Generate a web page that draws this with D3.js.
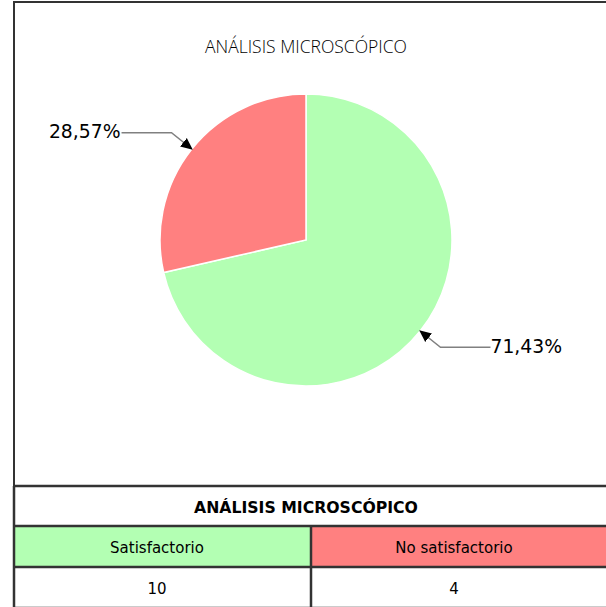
<!DOCTYPE html>
<html>
<head>
<meta charset="utf-8">
<script src="https://cdn.jsdelivr.net/npm/d3@7"></script>
<style>
html,body{margin:0;padding:0;background:#fff;overflow:hidden;}
svg{display:block;}
</style>
</head>
<body>
<svg id="chart" width="606" height="607"></svg>
<script>
const chartTitle = "ANÁLISIS MICROSCÓPICO";
const categories = ["Satisfactorio", "No satisfactorio"];
const values = [10, 4];
const sliceColors = ["#b3ffb3", "#ff8080"];

const W = 606, H = 607;
const svg = d3.select("#chart");
const border = "#333333";

// Outer chart frame
const frame = {x0: 14, y0: 2, x1: 612, y1: 486};
svg.append("rect").attr("x", frame.x0).attr("y", frame.y0)
  .attr("width", frame.x1 - frame.x0).attr("height", frame.y1 - frame.y0)
  .attr("fill", "#fff").attr("stroke", border).attr("stroke-width", 2);

// Title
svg.append("text").attr("x", 306).attr("y", 46)
  .attr("text-anchor", "middle").attr("dominant-baseline", "central")
  .attr("font-family", "'Open Sans', sans-serif").attr("font-weight", 300)
  .attr("font-size", 17.5).attr("fill", "#000").text(chartTitle);

// Pie
const cx = 306, cy = 240, r = 146;
const total = d3.sum(values);
const pie = d3.pie().sort(null).value(d => d)(values);
const arc = d3.arc().innerRadius(0).outerRadius(r);
const g = svg.append("g").attr("transform", `translate(${cx},${cy})`);
g.selectAll("path.slice").data(pie).join("path")
  .attr("class", "slice")
  .attr("d", arc)
  .attr("fill", (d, i) => sliceColors[i])
  .attr("stroke", "#fff").attr("stroke-width", 1.5);

// Arrow marker
const defs = svg.append("defs");
defs.append("marker").attr("id", "arrow")
  .attr("viewBox", "0 0 10 10").attr("refX", 9).attr("refY", 5)
  .attr("markerWidth", 12).attr("markerHeight", 12)
  .attr("markerUnits", "userSpaceOnUse")
  .attr("orient", "auto")
  .append("path").attr("d", "M0,0.5 L10,5 L0,9.5 z").attr("fill", "#000");

const fmt = v => d3.format(".2f")(v * 100).replace(".", ",") + "%";

pie.forEach((d, i) => {
  const a = (d.startAngle + d.endAngle) / 2;
  const tip = [Math.sin(a) * r, -Math.cos(a) * r];
  const elbow = [Math.sin(a) * (r + 26), -Math.cos(a) * (r + 26)];
  const right = Math.sin(a) > 0;
  const end = [elbow[0] + (right ? 50 : -50), elbow[1]];
  g.append("path")
    .attr("d", `M${end[0]},${end[1]} L${elbow[0]},${elbow[1]} L${tip[0]},${tip[1]}`)
    .attr("fill", "none").attr("stroke", "#808080").attr("stroke-width", 1.5)
    .attr("marker-end", "url(#arrow)");
  g.append("text")
    .attr("x", end[0] + (right ? 0 : -1)).attr("y", end[1] - 1)
    .attr("text-anchor", right ? "start" : "end")
    .attr("dominant-baseline", "central")
    .attr("font-family", "'DejaVu Sans', sans-serif")
    .attr("font-size", 18.8).attr("fill", "#000")
    .text(fmt(d.value / total));
});

// Table
const tx0 = 14, tx1 = 608, tmid = 311;
const rows = [486, 526, 567, 608];
svg.append("rect").attr("x", tx0).attr("y", rows[0]).attr("width", tx1 - tx0).attr("height", rows[1] - rows[0]).attr("fill", "#fff");
const colX = [[tx0, tmid], [tmid, tx1]];
categories.forEach((c, i) => {
  svg.append("rect").attr("x", colX[i][0]).attr("y", rows[1])
    .attr("width", colX[i][1] - colX[i][0]).attr("height", rows[2] - rows[1])
    .attr("fill", sliceColors[i]);
  svg.append("rect").attr("x", colX[i][0]).attr("y", rows[2])
    .attr("width", colX[i][1] - colX[i][0]).attr("height", rows[3] - rows[2])
    .attr("fill", "#fff");
});
rows.forEach(y => svg.append("line").attr("x1", tx0 - 1).attr("x2", tx1).attr("y1", y).attr("y2", y)
  .attr("stroke", border).attr("stroke-width", 2.5));
svg.append("line").attr("x1", tx0).attr("x2", tx0).attr("y1", rows[0]).attr("y2", rows[3])
  .attr("stroke", border).attr("stroke-width", 2.5);
svg.append("line").attr("x1", tmid).attr("x2", tmid).attr("y1", rows[1]).attr("y2", rows[3])
  .attr("stroke", border).attr("stroke-width", 2.5);

svg.append("text").attr("x", 306).attr("y", (rows[0] + rows[1]) / 2 + 1)
  .attr("text-anchor", "middle").attr("dominant-baseline", "central")
  .attr("font-family", "'DejaVu Sans', sans-serif").attr("font-weight", "bold")
  .attr("font-size", 15.7).attr("fill", "#000").text(chartTitle);
const textX = [157, 454];
categories.forEach((c, i) => {
  svg.append("text").attr("x", textX[i]).attr("y", (rows[1] + rows[2]) / 2 + 1)
    .attr("text-anchor", "middle").attr("dominant-baseline", "central")
    .attr("font-family", "'DejaVu Sans', sans-serif")
    .attr("font-size", 15).attr("fill", "#000").text(c);
  svg.append("text").attr("x", textX[i]).attr("y", (rows[2] + rows[3]) / 2 + 1)
    .attr("text-anchor", "middle").attr("dominant-baseline", "central")
    .attr("font-family", "'DejaVu Sans', sans-serif")
    .attr("font-size", 15).attr("fill", "#000").text(values[i]);
});
</script>
</body>
</html>
